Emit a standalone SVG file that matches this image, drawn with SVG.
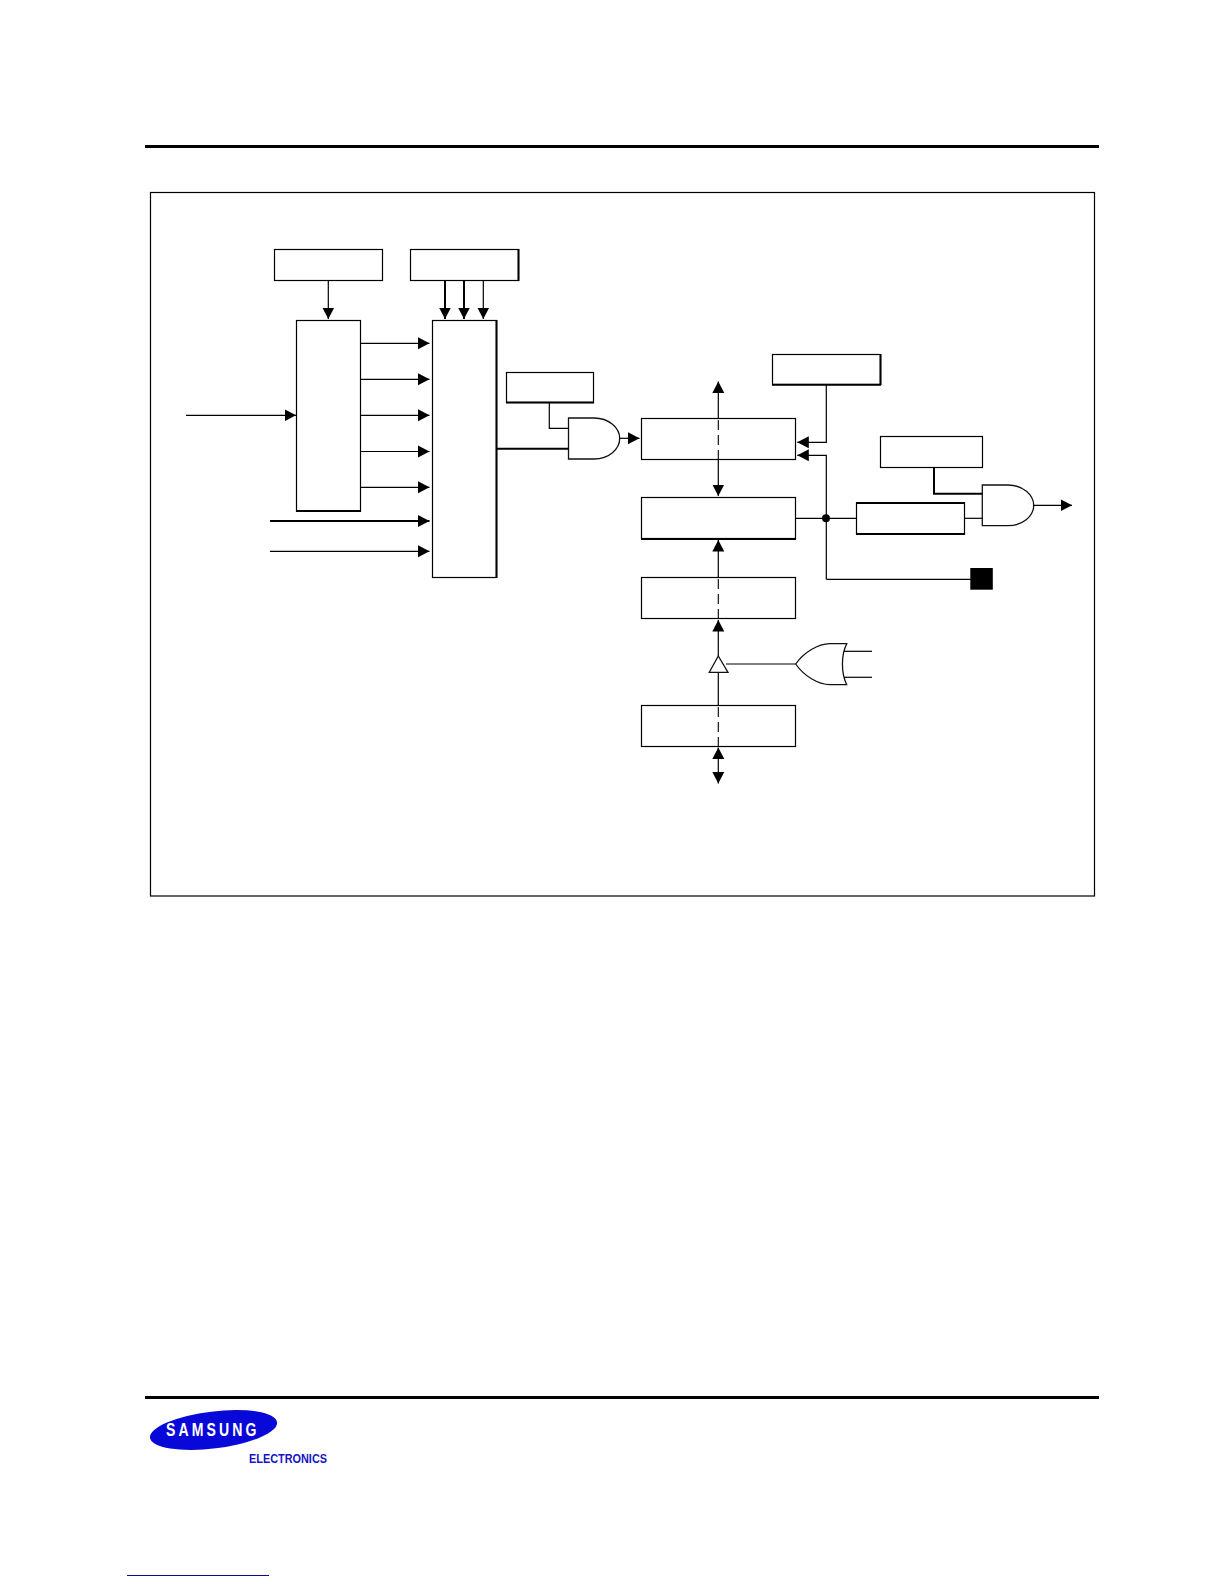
<svg xmlns="http://www.w3.org/2000/svg" width="1224" height="1584" viewBox="0 0 1224 1584">
<style>
.b{fill:#fff;stroke:#000;stroke-width:1.2}
.g{fill:#fff;stroke:#111;stroke-width:1.3}
.w{fill:none;stroke:#000;stroke-width:1.2}
.t{fill:none;stroke:#000;stroke-width:2}
.a{marker-end:url(#ah)}
.d{fill:none;stroke:#000;stroke-width:1.1;stroke-dasharray:10 5}
.logo{font-family:"Liberation Sans",Arial,sans-serif;font-weight:bold}
</style>
<defs>
<marker id="ah" markerUnits="userSpaceOnUse" markerWidth="13" markerHeight="13" refX="11.5" refY="6" orient="auto" viewBox="0 0 13 12"><path d="M0 0L11.5 6L0 12Z" fill="#000"/></marker>
</defs>
<rect width="1224" height="1584" fill="#fff"/>
<g id="page-rules">
<line x1="145" y1="146.500" x2="1099" y2="146.500" stroke="#000" stroke-width="3"/>
<line x1="145" y1="1397.500" x2="1099" y2="1397.500" stroke="#000" stroke-width="3"/>
<line x1="127" y1="1575.500" x2="269" y2="1575.500" stroke="#0a0a90" stroke-width="1"/>
</g>
<rect id="frame" x="150.500" y="192.500" width="944" height="703.500" fill="none" stroke="#000" stroke-width="1.2"/>
<g id="n1"><rect class="b" x="274.500" y="249.500" width="108" height="31"/></g>
<g id="n2"><rect class="b" x="410.500" y="249.500" width="108" height="31"/><path d="M518.500 249V281" stroke="#000" stroke-width="2"/></g>
<g id="n3"><rect class="b" x="296.500" y="320.500" width="64" height="190.500"/><path d="M296 511H361" stroke="#000" stroke-width="2"/></g>
<g id="n4"><rect class="b" x="432.500" y="320.500" width="64" height="257"/><path d="M496.500 320V578" stroke="#000" stroke-width="2"/></g>
<g id="n5"><rect class="b" x="506.500" y="372.500" width="87" height="30"/><path d="M506 402.500H594" stroke="#000" stroke-width="2"/></g>
<g id="and1"><path class="g" d="M568.500 418H594C609 418 619.700 428 619.700 438.500C619.700 449 609 459 594 459H568.500Z"/></g>
<g id="n6"><rect class="b" x="772.500" y="354.500" width="108" height="30"/><path d="M772 384.700H881M880.500 354V385" stroke="#000" stroke-width="2"/></g>
<g id="n7"><rect class="b" x="641.500" y="418.500" width="154" height="41"/></g>
<g id="n8"><rect class="b" x="641.500" y="497.500" width="154" height="41"/><path d="M641 539H796" stroke="#000" stroke-width="2"/></g>
<g id="n9"><rect class="b" x="641.500" y="577.500" width="154" height="41"/></g>
<g id="n10"><rect class="b" x="641.500" y="705.500" width="154" height="41"/></g>
<g id="n11"><rect class="b" x="856.500" y="503" width="108" height="31"/><path d="M856 503H965M856 534H965" stroke="#000" stroke-width="2"/></g>
<g id="n12"><rect class="b" x="880.500" y="436.500" width="102" height="31"/></g>
<g id="and2"><path class="g" d="M982.300 485H1008C1023 485 1033.700 495 1033.700 505.300C1033.700 516 1023 525.700 1008 525.700H982.300Z"/></g>
<g id="or1"><path class="g" d="M795.700 664C804 652 818 644 830 643.700H846.700C841 655 841 673 846.700 684.700H830C818 684.500 804 676 795.700 664Z"/></g>
<g id="pin"><rect x="970.300" y="568" width="22.500" height="21.700" fill="#000"/></g>
<g id="connectors">
<path class="w a" d="M328.300 280.500V319"/>
<path class="t a" d="M445 280.500V319"/>
<path class="t a" d="M464 280.500V319"/>
<path class="w a" d="M483.300 280.500V319"/>
<path class="w a" d="M360.500 343.300H429.500"/>
<path class="w a" d="M360.500 379.300H429.500"/>
<path class="w a" d="M360.500 415.300H429.500"/>
<path class="w a" d="M360.500 451.500H429.500"/>
<path class="w a" d="M360.500 487.300H429.500"/>
<path class="t a" d="M270 521H429.500"/>
<path class="w a" d="M270 551.300H429.500"/>
<path class="w a" d="M186 415.300H296"/>
<path class="t" d="M497 448.700H568.500"/>
<path class="w" d="M549.300 403V428.300H568.500"/>
<path class="w a" d="M619.700 438.300H639.500"/>
<path class="w a" d="M718.300 418.300V381.500"/>
<path class="w a" d="M718.300 459.300V496"/>
<path class="d" d="M718.300 420V459.300"/>
<path class="w a" d="M718.300 577.300V540"/>
<path class="d" d="M718.300 579V618.300"/>
<path class="w a" d="M718.300 656V620"/>
<path class="w" d="M718.300 672V705.300"/>
<path class="d" d="M718.300 707V746.300"/>
<path class="w a" d="M718.300 765V747.500"/>
<path class="w a" d="M718.300 765V783.500"/>
<path class="w a" d="M826.300 385V442.300H797.300"/>
<path class="w a" d="M826.300 579.300V455.300H797.300"/>
<path class="w" d="M826.300 579.300H971"/>
<path class="w" d="M795.300 518.300H856.300"/>
<path class="w" d="M964.700 518.300H982.300"/>
<path class="t" d="M934 467.800V493.700H982.300"/>
<path class="w a" d="M1033.700 505.300H1072"/>
<path class="w" d="M726 664H795.700"/>
<path class="w" d="M844 651.300H872"/>
<path class="w" d="M844 677.300H872"/>
<circle cx="826" cy="518.300" r="4" fill="#000"/>
</g>
<g id="buffer"><path class="g" d="M718.300 656L728 672.300H709.300Z"/></g>
<g id="logo">
<ellipse cx="213.500" cy="1430" rx="64" ry="18.500" transform="rotate(-7 213.500 1430)" fill="#0808d8"/>
<text class="logo" transform="translate(166 1436) scale(.78 1)" font-size="18" letter-spacing="5" fill="#fff" textLength="121" lengthAdjust="spacing">SAMSUNG</text>
<text class="logo" x="249" y="1463" font-size="13" fill="#1414c8" textLength="78" lengthAdjust="spacingAndGlyphs">ELECTRONICS</text>
</g>
</svg>
